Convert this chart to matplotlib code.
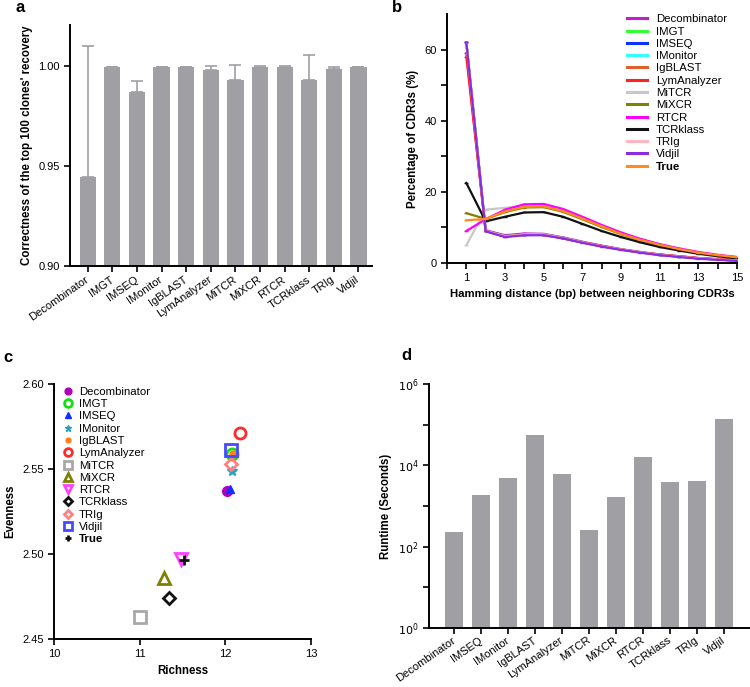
import matplotlib
matplotlib.use('Agg')
import matplotlib.pyplot as plt
import numpy as np

plt.rcParams['font.family'] = ['Liberation Sans', 'DejaVu Sans']
plt.rcParams['font.size'] = 8
plt.rcParams['axes.linewidth'] = 1.4
plt.rcParams['xtick.major.width'] = 1.2
plt.rcParams['ytick.major.width'] = 1.2
plt.rcParams['xtick.minor.width'] = 1.2
plt.rcParams['ytick.minor.width'] = 1.2

# ---- panel a: correctness of top 100 clones
tools_a = ['Decombinator', 'IMGT', 'IMSEQ', 'IMonitor', 'IgBLAST', 'LymAnalyzer',
           'MiTCR', 'MiXCR', 'RTCR', 'TCRklass', 'TRIg', 'Vidjil']
correct = [0.9445, 0.9993, 0.9872, 0.9993, 0.9993, 0.9981,
           0.9928, 0.9997, 0.9997, 0.9932, 0.9983, 0.9993]
correct_err = [0.0657, 0.0003, 0.0055, 0.0003, 0.0003, 0.0020,
               0.0077, 0.0002, 0.0002, 0.0125, 0.0013, 0.0003]

# ---- panel b: hamming distance between neighboring CDR3s
hamming = list(range(1, 16))
series_b = ['Decombinator', 'IMGT', 'IMSEQ', 'IMonitor', 'IgBLAST', 'LymAnalyzer',
            'MiTCR', 'MiXCR', 'RTCR', 'TCRklass', 'TRIg', 'Vidjil', 'True']
colors_b = ['#c020c8', '#33ff33', '#1030ff', '#33ffff', '#e0602a', '#ff2020',
            '#c8c8c8', '#808000', '#ff00ff', '#111111', '#ffb6c1', '#8a2be2', '#ff8c1a']
decombinator_b = [59, 9.2, 7.8, 8.3, 8.2, 7.2, 6.0, 4.9, 3.9, 3.1, 2.4, 1.9, 1.4, 1.0, 0.8]
imgt_b = [62, 9.0, 7.5, 8.0, 8.0, 7.0, 5.8, 4.7, 3.8, 3.0, 2.3, 1.8, 1.3, 1.0, 0.7]
imseq_b = [62, 9.0, 7.5, 8.0, 8.0, 7.0, 5.8, 4.7, 3.8, 3.0, 2.3, 1.8, 1.3, 1.0, 0.7]
imonitor_b = [62, 9.0, 7.5, 8.0, 8.0, 7.0, 5.8, 4.7, 3.8, 3.0, 2.3, 1.8, 1.3, 1.0, 0.7]
igblast_b = [62, 9.0, 7.5, 8.0, 8.0, 7.0, 5.8, 4.7, 3.8, 3.0, 2.3, 1.8, 1.3, 1.0, 0.7]
lymanalyzer_b = [58, 9.0, 7.4, 7.9, 7.9, 6.9, 5.8, 4.8, 3.8, 3.0, 2.4, 1.9, 1.4, 1.1, 0.9]
mitcr_b = [5, 15.0, 15.5, 16.0, 16.0, 14.8, 12.7, 10.5, 8.4, 6.6, 5.2, 4.0, 3.0, 2.2, 1.6]
mixcr_b = [14, 12.4, 14.3, 15.6, 15.7, 14.4, 12.3, 10.1, 8.1, 6.4, 5.0, 3.8, 2.9, 2.1, 1.5]
rtcr_b = [9, 12.3, 15.0, 16.5, 16.6, 15.2, 13.0, 10.7, 8.6, 6.8, 5.3, 4.1, 3.1, 2.3, 1.7]
tcrklass_b = [22.5, 11.7, 13.0, 14.2, 14.3, 13.0, 11.0, 9.0, 7.3, 5.8, 4.5, 3.5, 2.6, 1.9, 1.3]
trig_b = [62, 9.0, 7.5, 8.0, 8.0, 7.0, 5.8, 4.7, 3.8, 3.0, 2.3, 1.8, 1.3, 1.0, 0.7]
vidjil_b = [62, 8.9, 7.3, 7.8, 7.8, 6.9, 5.7, 4.6, 3.7, 2.9, 2.2, 1.7, 1.2, 0.9, 0.6]
true_b = [12, 12.4, 14.5, 15.8, 15.9, 14.6, 12.5, 10.3, 8.2, 6.5, 5.1, 3.9, 2.9, 2.2, 1.6]
values_b = [decombinator_b, imgt_b, imseq_b, imonitor_b, igblast_b, lymanalyzer_b,
            mitcr_b, mixcr_b, rtcr_b, tcrklass_b, trig_b, vidjil_b, true_b]

# ---- panel c: richness vs evenness
richness = [12.02, 12.08, 12.06, 12.08, 12.09, 12.17, 11.00, 11.28, 11.48, 11.34, 12.07, 12.07, 11.52]
evenness = [2.537, 2.559, 2.538, 2.549, 2.559, 2.571, 2.463, 2.486, 2.497, 2.474, 2.553, 2.561, 2.4965]

# ---- panel d: runtime
tools_d = ['Decombinator', 'IMSEQ', 'IMonitor', 'IgBLAST', 'LymAnalyzer', 'MiTCR',
           'MiXCR', 'RTCR', 'TCRklass', 'TRIg', 'Vidjil']
runtime = [229, 1860, 4840, 56000, 6200, 256, 1710, 15900, 3940, 4160, 136000]

W, H = 750, 687
fig = plt.figure(figsize=(W / 100, H / 100), dpi=100)


def px(l, t, r, b):
    return [l / W, 1 - b / H, (r - l) / W, (b - t) / H]


grey = '#a0a0a4'
lab_fs = 8.3


def style(ax):
    ax.spines['top'].set_visible(False)
    ax.spines['right'].set_visible(False)
    ax.tick_params(labelsize=8, length=4, direction='out')


# a
ax = fig.add_axes(px(70, 25, 372, 266))
xa = np.arange(len(tools_a))
ax.bar(xa, correct, width=0.66, color=grey)
ax.errorbar(xa, correct, yerr=[np.zeros(len(xa)), correct_err], fmt='none',
            ecolor=grey, elinewidth=1.2, capsize=4, capthick=1.2)
ax.set_ylim(0.90, 1.0205)
ax.set_xlim(-0.72, len(xa) - 0.45)
ax.set_yticks([0.90, 0.95, 1.00])
ax.set_yticklabels(['0.90', '0.95', '1.00'])
ax.set_xticks(xa)
ax.set_xticklabels(tools_a, rotation=35, ha='right', va='center', rotation_mode='anchor', fontsize=8.8)
ax.set_ylabel("Correctness of the top 100 clones' recovery", fontweight='bold', fontsize=lab_fs)
style(ax)
ax.tick_params(axis='x', pad=5)
fig.text(15 / W, 1 - 8 / H, 'a', fontsize=12, fontweight='bold', va='center')

# b
ax = fig.add_axes(px(447, 14, 737, 263))
handles = []
for name, vals, col in zip(series_b, values_b, colors_b):
    h, = ax.plot(hamming, vals, color=col, lw=1.6, marker='_', ms=3, label=name)
    handles.append(h)
ax.set_xlim(0, 15)
ax.set_ylim(0, 70)
ax.set_xticks(range(1, 16, 2))
ax.set_xticks(range(0, 16), minor=True)
ax.set_yticks([0, 20, 40, 60])
ax.set_yticks([10, 30, 50], minor=True)
ax.tick_params(which='minor', length=4)
ax.set_xlabel('Hamming distance (bp) between neighboring CDR3s', fontweight='bold', fontsize=8.2)
ax.set_ylabel('Percentage of CDR3s (%)', fontweight='bold', fontsize=lab_fs)
style(ax)
leg = ax.legend(handles=handles, loc='upper right', bbox_to_anchor=(1.0, 1.04), frameon=False,
                fontsize=8.2, handlelength=1.75, handletextpad=0.8, labelspacing=0.2)
for lh in leg.get_lines():
    lh.set_linewidth(2.2)
    lh.set_marker('')
leg.get_texts()[-1].set_fontweight('bold')
fig.text(392 / W, 1 - 8 / H, 'b', fontsize=12, fontweight='bold', va='center')

# c
ax = fig.add_axes(px(54, 384, 311, 639))
marker_c = [
    dict(marker='o', mfc='#b000b8', mec='#b000b8', ms=7),
    dict(marker='o', mfc='none', mec='#10e010', ms=8, mew=2),
    dict(marker='^', mfc='#1030ff', mec='#1030ff', ms=6),
    dict(marker='*', mfc='#2aa0c0', mec='#2aa0c0', ms=7),
    dict(marker='o', mfc='#ff7f20', mec='#ff7f20', ms=5),
    dict(marker='o', mfc='none', mec='#ff2a2a', ms=8, mew=2),
    dict(marker='s', mfc='none', mec='#a8a8a8', ms=8, mew=2),
    dict(marker='^', mfc='none', mec='#808000', ms=8, mew=2),
    dict(marker='v', mfc='none', mec='#ff40ff', ms=8, mew=2),
    dict(marker='D', mfc='none', mec='#111111', ms=6, mew=2),
    dict(marker='D', mfc='none', mec='#ff8080', ms=6, mew=2),
    dict(marker='s', mfc='none', mec='#4848ff', ms=8, mew=2),
    dict(marker='+', mfc='none', mec='#111111', ms=7, mew=2),
]
handles = []
for name, rx, ey, mk in zip(series_b, richness, evenness, marker_c):
    h, = ax.plot([rx], [ey], linestyle='none', label=name, **mk)
    handles.append(h)
ax.set_xlim(10, 13)
ax.set_ylim(2.45, 2.60)
ax.set_xticks([10, 11, 12, 13])
ax.set_yticks([2.45, 2.50, 2.55, 2.60])
ax.set_yticklabels(['2.45', '2.50', '2.55', '2.60'])
ax.set_xlabel('Richness', fontweight='bold', fontsize=lab_fs)
ax.set_ylabel('Evenness', fontweight='bold', fontsize=lab_fs)
style(ax)
leg = ax.legend(handles=handles, loc='upper left', bbox_to_anchor=(0.0, 1.02), frameon=False,
                fontsize=8.2, markerscale=0.7, handlelength=1.0, handletextpad=0.5,
                labelspacing=0.2, borderpad=0.2)
leg.get_texts()[-1].set_fontweight('bold')
fig.text(3 / W, 1 - 357 / H, 'c', fontsize=12, fontweight='bold', va='center')

# d
ax = fig.add_axes(px(429, 384, 750, 628))
xd = np.arange(len(tools_d))
ax.bar(xd, runtime, width=0.66, color=grey)
ax.set_yscale('log')
ax.set_ylim(1, 1e6)
ax.set_xlim(-0.94, len(xd) - 0.05)
ax.set_yticks([1, 1e2, 1e4, 1e6])
ax.set_yticklabels([r'$10^0$', r'$10^2$', r'$10^4$', r'$10^6$'])
ax.set_yticks([10, 1e3, 1e5], minor=True)
ax.set_yticklabels([], minor=True)
ax.tick_params(which='minor', length=4)
ax.set_xticks(xd)
ax.set_xticklabels(tools_d, rotation=35, ha='right', va='center', rotation_mode='anchor', fontsize=8)
ax.set_ylabel('Runtime (Seconds)', fontweight='bold', fontsize=lab_fs)
style(ax)
ax.tick_params(axis='x', pad=4)
fig.text(401 / W, 1 - 355 / H, 'd', fontsize=12, fontweight='bold', va='center')

fig.savefig('out.png', dpi=100)
